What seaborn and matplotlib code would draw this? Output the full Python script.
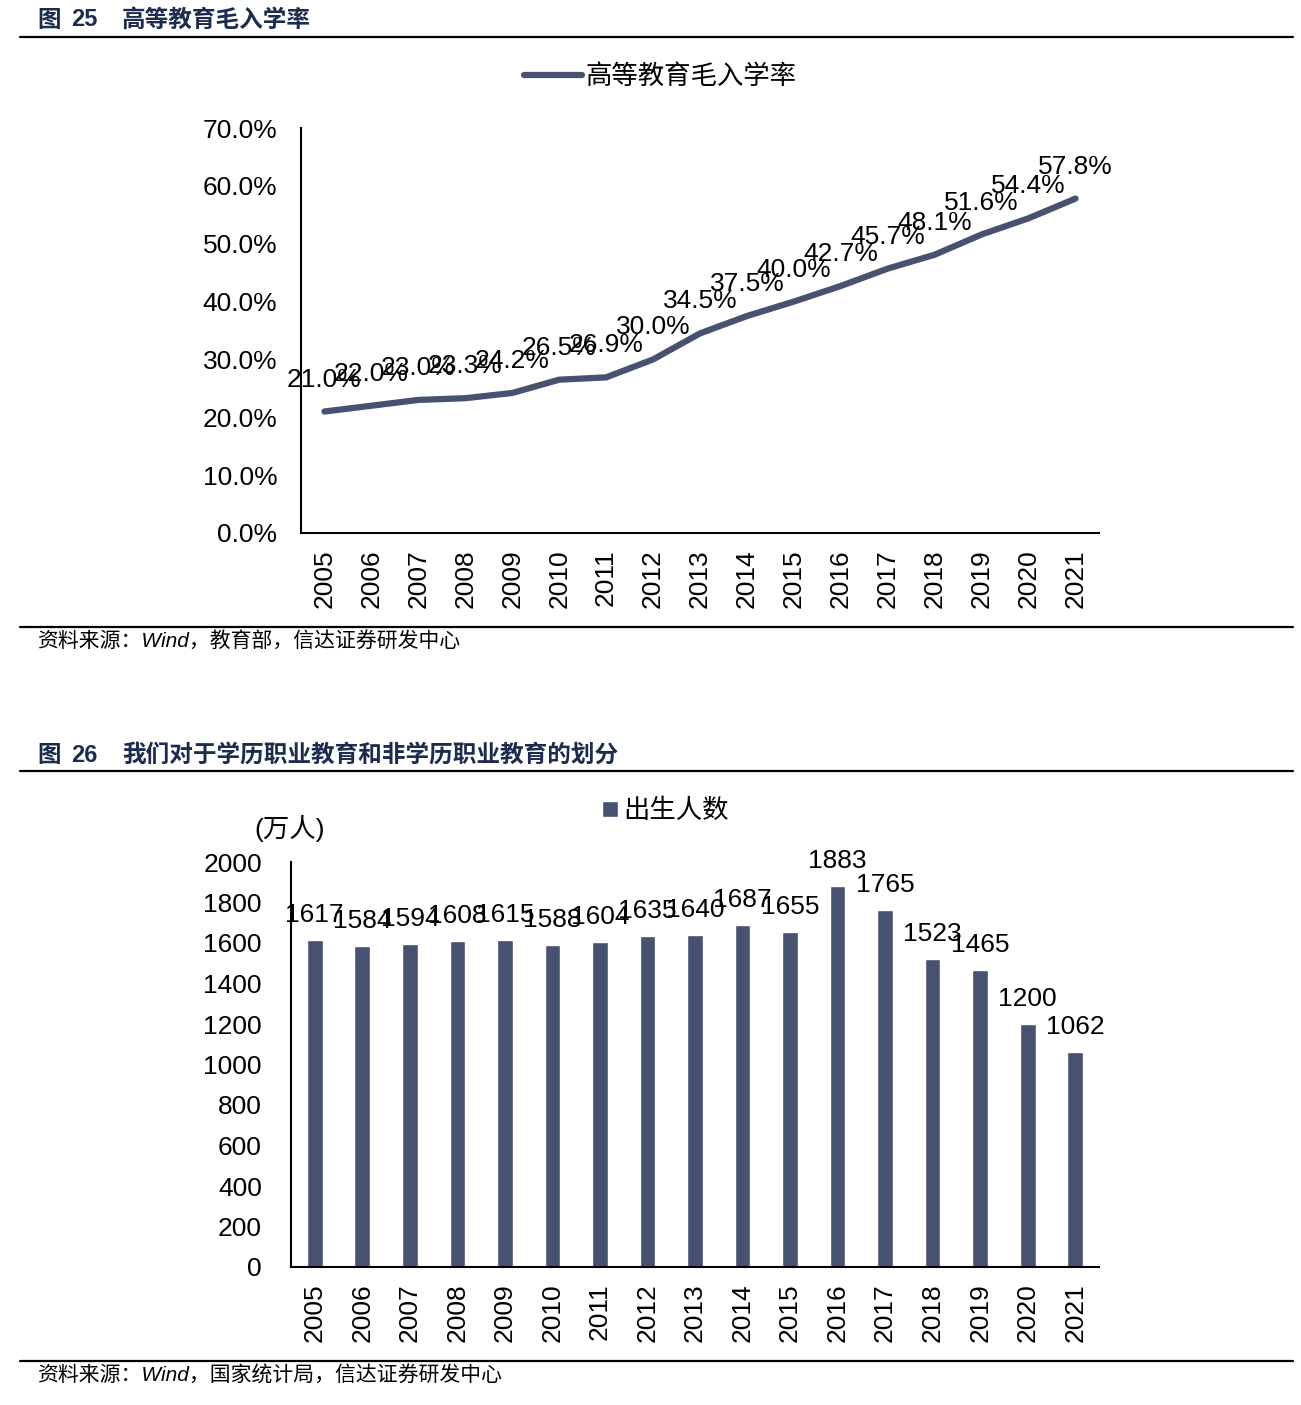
import numpy as np
import pandas as pd
import matplotlib
matplotlib.use('Agg')
import matplotlib.pyplot as plt
from matplotlib.lines import Line2D
from matplotlib.ticker import FuncFormatter
import seaborn as sns

# data
years = [str(y) for y in range(2005, 2022)]
enroll_rate = [21.0, 22.0, 23.0, 23.3, 24.2, 26.5, 26.9, 30.0, 34.5, 37.5,
               40.0, 42.7, 45.7, 48.1, 51.6, 54.4, 57.8]
births = [1617, 1584, 1594, 1608, 1615, 1588, 1604, 1635, 1640, 1687,
          1655, 1883, 1765, 1523, 1465, 1200, 1062]

title1 = '高等教育毛入学率'
title2 = '我们对于学历职业教育和非学历职业教育的划分'
source1 = '资料来源：Wind，教育部，信达证券研发中心'
source2 = '资料来源：Wind，国家统计局，信达证券研发中心'

sns.set_style('white')
plt.rcParams['font.family'] = ['Liberation Sans', 'Noto Sans CJK SC', 'DejaVu Sans']
plt.rcParams['axes.unicode_minus'] = False
plt.rcParams['text.color'] = 'black'
plt.rcParams['xtick.color'] = 'black'
plt.rcParams['ytick.color'] = 'black'
plt.rcParams['legend.labelcolor'] = 'black'

C = '#475271'
NAVY = '#1c2c4e'
FS = 19
W, H = 1301, 1405
fig = plt.figure(figsize=(W / 100, H / 100), dpi=100)

def fx(px):
    return px / W

def fy(py):
    return 1 - py / H

def header(y_text, y_line, num, title):
    fig.text(fx(37), fy(y_text), '图', fontsize=17, fontweight='bold', color=NAVY,
             va='center', family=['Noto Sans CJK SC'])
    fig.text(fx(71), fy(y_text), num, fontsize=17, fontweight='bold', color=NAVY,
             va='center', family=['Liberation Sans'])
    fig.text(fx(122), fy(y_text), title, fontsize=17, fontweight='bold', color=NAVY,
             va='center', family=['Noto Sans CJK SC'])
    fig.add_artist(Line2D([fx(20), fx(1293)], [fy(y_line), fy(y_line)],
                          transform=fig.transFigure, color='black', lw=1.6))

def footer(y_line, y_text, text):
    fig.add_artist(Line2D([fx(20), fx(1293)], [fy(y_line), fy(y_line)],
                          transform=fig.transFigure, color='black', lw=1.6))
    fig.text(fx(37), fy(y_text), text, fontsize=15, style='italic', color='black',
             va='center', family=['Liberation Sans', 'Noto Sans CJK SC'])

def style_axes(ax, n, ypad):
    sns.despine(ax=ax)
    for s in ['left', 'bottom']:
        ax.spines[s].set_linewidth(1.5)
        ax.spines[s].set_color('black')
    ax.set_xlim(-0.5, n - 0.5)
    ax.set_xticks(np.arange(n + 1) - 0.5)
    ax.set_xticklabels([''] * (n + 1))
    ax.set_xticks(np.arange(n), minor=True)
    ax.set_xticklabels(years, minor=True, rotation=90, fontsize=FS)
    ax.tick_params(axis='x', which='major', direction='out', length=7, width=1.5, color='black')
    ax.tick_params(axis='x', which='minor', length=0, pad=12)
    ax.tick_params(axis='y', direction='out', length=7, width=1.5, color='black',
                   labelsize=FS, pad=ypad)
    ax.set_xlabel('')
    ax.set_ylabel('')
    ax.grid(False)

n = len(years)

# ---- chart 25: line
header(20, 37, '25', title1)
ax1 = fig.add_axes([fx(301), fy(533), fx(1099) - fx(301), fy(128) - fy(533)])
df1 = pd.DataFrame({'pos': np.arange(n), 'rate': enroll_rate})
sns.lineplot(data=df1, x='pos', y='rate', ax=ax1, color=C, lw=4.5,
             solid_capstyle='round', solid_joinstyle='round', label=title1)
ax1.set_ylim(0, 70)
ax1.set_yticks(np.arange(0, 71, 10))
ax1.yaxis.set_major_formatter(FuncFormatter(lambda v, p: f'{v:.1f}%'))
style_axes(ax1, n, 10)
for i, v in enumerate(enroll_rate):
    ax1.annotate(f'{v:.1f}%', (i, v), xytext=(0, 23), textcoords='offset points',
                 ha='center', va='center', fontsize=FS)
ax1.legend(loc='center', bbox_to_anchor=(0.45, 1.126), frameon=False,
           fontsize=FS, handlelength=2.2, handletextpad=0.15)
footer(627, 641, source1)

# ---- chart 26: bars
header(755, 771, '26', title2)
ax2 = fig.add_axes([fx(291), fy(1267), fx(1099) - fx(291), fy(862) - fy(1267)])
df2 = pd.DataFrame({'year': years, 'births': births})
sns.barplot(data=df2, x='year', y='births', ax=ax2, color=C, width=0.33,
            saturation=1, label='出生人数')
ax2.set_ylim(0, 2000)
ax2.set_yticks(np.arange(0, 2001, 200))
style_axes(ax2, n, 14)
for i, v in enumerate(births):
    ax2.annotate(f'{v}', (i, v), xytext=(0, 18), textcoords='offset points',
                 ha='center', va='center', fontsize=FS)
ax2.legend(loc='center', bbox_to_anchor=(0.463, 1.126), frameon=False,
           fontsize=FS, handlelength=0.6, handleheight=0.6, handletextpad=0.2)
fig.text(fx(290), fy(828), '(万人)', fontsize=FS, ha='center', va='center')
footer(1361, 1376, source2)

fig.savefig('out.png', dpi=100)
